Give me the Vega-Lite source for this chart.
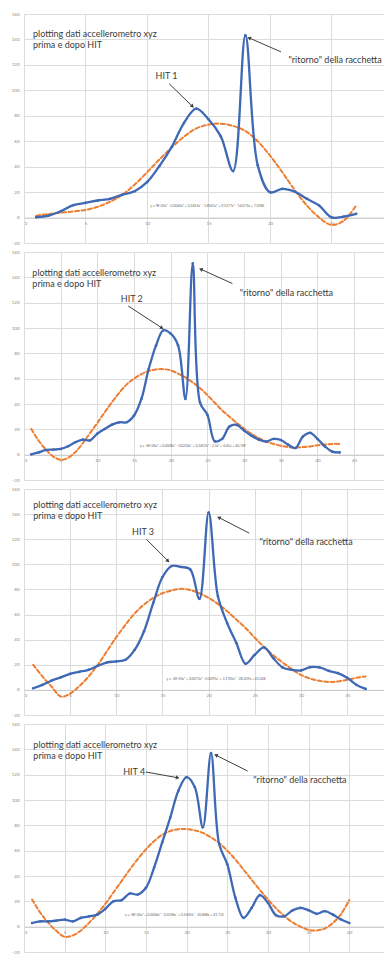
{
  "$schema": "https://vega.github.io/schema/vega-lite/v6.json",
  "padding": {"left": 11, "top": 11, "right": 0, "bottom": 0},
  "autosize": {"type": "pad"},
  "spacing": 9,
  "bounds": "flush",
  "background": "white",
  "config": {
    "view": {"stroke": null},
    "font": "Lato",
    "axis": {"title": null, "grid": true, "gridColor": "#dcdcdc", "gridWidth": 1, "ticks": false, "labelFontSize": 4.5, "labelColor": "#8c8c8c", "labelFont": "Lato"},
    "axisX": {"domainColor": "#c8c8c8", "labelPadding": 3},
    "axisY": {"domainColor": "#dcdcdc", "labelPadding": 5, "values": [-20, 0, 20, 40, 60, 80, 100, 120, 140, 160]},
    "line": {"strokeCap": "round", "strokeJoin": "round"},
    "text": {"font": "Lato", "color": "#3a3a3a", "fontSize": 9, "align": "left", "baseline": "middle"}
  },
  "datasets": {
    "acc": [
      {"hit": 1, "t": 1, "g": 0.3}, {"hit": 1, "t": 2, "g": 1.5}, {"hit": 1, "t": 3, "g": 5}, {"hit": 1, "t": 4, "g": 9.7}, {"hit": 1, "t": 5, "g": 11.5}, {"hit": 1, "t": 6, "g": 13.4}, {"hit": 1, "t": 7, "g": 14.7}, {"hit": 1, "t": 8, "g": 18}, {"hit": 1, "t": 9, "g": 20.7}, {"hit": 1, "t": 10, "g": 27.8}, {"hit": 1, "t": 11, "g": 40.4}, {"hit": 1, "t": 12, "g": 55.4}, {"hit": 1, "t": 13, "g": 74.3}, {"hit": 1, "t": 14, "g": 85.6}, {"hit": 1, "t": 15, "g": 77.2}, {"hit": 1, "t": 16, "g": 63.8}, {"hit": 1, "t": 17, "g": 36.5}, {"hit": 1, "t": 18, "g": 143.3}, {"hit": 1, "t": 19, "g": 41.2}, {"hit": 1, "t": 20, "g": 19.9}, {"hit": 1, "t": 21, "g": 22.6}, {"hit": 1, "t": 22, "g": 20.4}, {"hit": 1, "t": 23, "g": 14.7}, {"hit": 1, "t": 24, "g": 9.4}, {"hit": 1, "t": 25, "g": 0.2}, {"hit": 1, "t": 26, "g": 0.8}, {"hit": 1, "t": 27, "g": 2.9},
      {"hit": 2, "t": 1, "g": 0.3}, {"hit": 2, "t": 2, "g": 1.8}, {"hit": 2, "t": 3, "g": 3.7}, {"hit": 2, "t": 4, "g": 4}, {"hit": 2, "t": 5, "g": 4.5}, {"hit": 2, "t": 6, "g": 6.6}, {"hit": 2, "t": 7, "g": 9.8}, {"hit": 2, "t": 8, "g": 11.9}, {"hit": 2, "t": 9, "g": 11.3}, {"hit": 2, "t": 10, "g": 16.6}, {"hit": 2, "t": 11, "g": 20.3}, {"hit": 2, "t": 12, "g": 23.7}, {"hit": 2, "t": 13, "g": 25.6}, {"hit": 2, "t": 14, "g": 25.6}, {"hit": 2, "t": 15, "g": 30.9}, {"hit": 2, "t": 16, "g": 44}, {"hit": 2, "t": 17, "g": 67.8}, {"hit": 2, "t": 18, "g": 86.3}, {"hit": 2, "t": 19, "g": 98.2}, {"hit": 2, "t": 20, "g": 95.5}, {"hit": 2, "t": 21, "g": 86.3}, {"hit": 2, "t": 22, "g": 44}, {"hit": 2, "t": 23, "g": 151}, {"hit": 2, "t": 24, "g": 40.9}, {"hit": 2, "t": 25, "g": 31.4}, {"hit": 2, "t": 26, "g": 10.6}, {"hit": 2, "t": 27, "g": 12.4}, {"hit": 2, "t": 28, "g": 22.2}, {"hit": 2, "t": 29, "g": 23.5}, {"hit": 2, "t": 30, "g": 19}, {"hit": 2, "t": 31, "g": 15}, {"hit": 2, "t": 32, "g": 11.9}, {"hit": 2, "t": 33, "g": 10.3}, {"hit": 2, "t": 34, "g": 12.4}, {"hit": 2, "t": 35, "g": 11.6}, {"hit": 2, "t": 36, "g": 7.9}, {"hit": 2, "t": 37, "g": 5.3}, {"hit": 2, "t": 38, "g": 14.2}, {"hit": 2, "t": 39, "g": 17.2}, {"hit": 2, "t": 40, "g": 12.4}, {"hit": 2, "t": 41, "g": 6.6}, {"hit": 2, "t": 42, "g": 2.4}, {"hit": 2, "t": 43, "g": 1.8},
      {"hit": 3, "t": 1, "g": 1.3}, {"hit": 3, "t": 2, "g": 4}, {"hit": 3, "t": 3, "g": 7.5}, {"hit": 3, "t": 4, "g": 10}, {"hit": 3, "t": 5, "g": 12.8}, {"hit": 3, "t": 6, "g": 14.4}, {"hit": 3, "t": 7, "g": 16}, {"hit": 3, "t": 8, "g": 19.2}, {"hit": 3, "t": 9, "g": 21.9}, {"hit": 3, "t": 10, "g": 22.7}, {"hit": 3, "t": 11, "g": 24}, {"hit": 3, "t": 12, "g": 32}, {"hit": 3, "t": 13, "g": 46.7}, {"hit": 3, "t": 14, "g": 69.3}, {"hit": 3, "t": 15, "g": 89.9}, {"hit": 3, "t": 16, "g": 98.7}, {"hit": 3, "t": 17, "g": 97.9}, {"hit": 3, "t": 18, "g": 96}, {"hit": 3, "t": 19, "g": 72.5}, {"hit": 3, "t": 20, "g": 141.3}, {"hit": 3, "t": 21, "g": 74.7}, {"hit": 3, "t": 22, "g": 53.3}, {"hit": 3, "t": 23, "g": 37.3}, {"hit": 3, "t": 24, "g": 20.8}, {"hit": 3, "t": 25, "g": 28}, {"hit": 3, "t": 26, "g": 33.9}, {"hit": 3, "t": 27, "g": 25.3}, {"hit": 3, "t": 28, "g": 17.9}, {"hit": 3, "t": 29, "g": 16}, {"hit": 3, "t": 30, "g": 15.5}, {"hit": 3, "t": 31, "g": 18.1}, {"hit": 3, "t": 32, "g": 17.9}, {"hit": 3, "t": 33, "g": 15.2}, {"hit": 3, "t": 34, "g": 13.3}, {"hit": 3, "t": 35, "g": 9.6}, {"hit": 3, "t": 36, "g": 4}, {"hit": 3, "t": 37, "g": 0.8},
      {"hit": 4, "t": 1, "g": 2.9}, {"hit": 4, "t": 2, "g": 4.2}, {"hit": 4, "t": 3, "g": 4.2}, {"hit": 4, "t": 4, "g": 4.8}, {"hit": 4, "t": 5, "g": 5.6}, {"hit": 4, "t": 6, "g": 4.2}, {"hit": 4, "t": 7, "g": 6.9}, {"hit": 4, "t": 8, "g": 8.2}, {"hit": 4, "t": 9, "g": 9.5}, {"hit": 4, "t": 10, "g": 14}, {"hit": 4, "t": 11, "g": 20.1}, {"hit": 4, "t": 12, "g": 20.9}, {"hit": 4, "t": 13, "g": 26.2}, {"hit": 4, "t": 14, "g": 25.4}, {"hit": 4, "t": 15, "g": 30.7}, {"hit": 4, "t": 16, "g": 46.6}, {"hit": 4, "t": 17, "g": 66.5}, {"hit": 4, "t": 18, "g": 86.4}, {"hit": 4, "t": 19, "g": 107.5}, {"hit": 4, "t": 20, "g": 118.1}, {"hit": 4, "t": 21, "g": 110.2}, {"hit": 4, "t": 22, "g": 78.4}, {"hit": 4, "t": 23, "g": 137}, {"hit": 4, "t": 24, "g": 65.2}, {"hit": 4, "t": 25, "g": 49.3}, {"hit": 4, "t": 26, "g": 22.8}, {"hit": 4, "t": 27, "g": 6.9}, {"hit": 4, "t": 28, "g": 14.8}, {"hit": 4, "t": 29, "g": 24.9}, {"hit": 4, "t": 30, "g": 18.8}, {"hit": 4, "t": 31, "g": 9}, {"hit": 4, "t": 32, "g": 8.2}, {"hit": 4, "t": 33, "g": 12.7}, {"hit": 4, "t": 34, "g": 14.8}, {"hit": 4, "t": 35, "g": 13}, {"hit": 4, "t": 36, "g": 10.1}, {"hit": 4, "t": 37, "g": 12.2}, {"hit": 4, "t": 38, "g": 9.5}, {"hit": 4, "t": 39, "g": 5.6}, {"hit": 4, "t": 40, "g": 2.9}
    ],
    "trend": [
      {"hit": 1, "t": 1, "g": 1.5}, {"hit": 1, "t": 2, "g": 2.8}, {"hit": 1, "t": 3, "g": 3.8}, {"hit": 1, "t": 4, "g": 4.8}, {"hit": 1, "t": 5, "g": 6}, {"hit": 1, "t": 6, "g": 8.5}, {"hit": 1, "t": 7, "g": 12.5}, {"hit": 1, "t": 8, "g": 17.8}, {"hit": 1, "t": 9, "g": 26}, {"hit": 1, "t": 10, "g": 35.5}, {"hit": 1, "t": 11, "g": 45.5}, {"hit": 1, "t": 12, "g": 55}, {"hit": 1, "t": 13, "g": 63.5}, {"hit": 1, "t": 14, "g": 70}, {"hit": 1, "t": 15, "g": 73}, {"hit": 1, "t": 16, "g": 73.8}, {"hit": 1, "t": 17, "g": 72}, {"hit": 1, "t": 18, "g": 68}, {"hit": 1, "t": 19, "g": 60}, {"hit": 1, "t": 20, "g": 48.7}, {"hit": 1, "t": 21, "g": 35.6}, {"hit": 1, "t": 22, "g": 21.8}, {"hit": 1, "t": 23, "g": 9.4}, {"hit": 1, "t": 24, "g": 0}, {"hit": 1, "t": 25, "g": -5.8}, {"hit": 1, "t": 26, "g": -2.4}, {"hit": 1, "t": 27, "g": 9.4},
      {"hit": 2, "t": 1, "g": 20.3}, {"hit": 2, "t": 2, "g": 11}, {"hit": 2, "t": 3, "g": 4}, {"hit": 2, "t": 4, "g": -1.5}, {"hit": 2, "t": 5, "g": -4}, {"hit": 2, "t": 6, "g": -2.5}, {"hit": 2, "t": 7, "g": 2}, {"hit": 2, "t": 8, "g": 9}, {"hit": 2, "t": 9, "g": 17}, {"hit": 2, "t": 10, "g": 25}, {"hit": 2, "t": 11, "g": 33.5}, {"hit": 2, "t": 12, "g": 41.5}, {"hit": 2, "t": 13, "g": 49}, {"hit": 2, "t": 14, "g": 55.5}, {"hit": 2, "t": 15, "g": 60}, {"hit": 2, "t": 16, "g": 63.5}, {"hit": 2, "t": 17, "g": 66}, {"hit": 2, "t": 18, "g": 67.3}, {"hit": 2, "t": 19, "g": 67.5}, {"hit": 2, "t": 20, "g": 66.5}, {"hit": 2, "t": 21, "g": 64}, {"hit": 2, "t": 22, "g": 61}, {"hit": 2, "t": 23, "g": 57}, {"hit": 2, "t": 24, "g": 52.5}, {"hit": 2, "t": 25, "g": 47}, {"hit": 2, "t": 26, "g": 41}, {"hit": 2, "t": 27, "g": 35}, {"hit": 2, "t": 28, "g": 30}, {"hit": 2, "t": 29, "g": 25}, {"hit": 2, "t": 30, "g": 20.5}, {"hit": 2, "t": 31, "g": 16.5}, {"hit": 2, "t": 32, "g": 13}, {"hit": 2, "t": 33, "g": 10.5}, {"hit": 2, "t": 34, "g": 8.5}, {"hit": 2, "t": 35, "g": 7}, {"hit": 2, "t": 36, "g": 6}, {"hit": 2, "t": 37, "g": 5.5}, {"hit": 2, "t": 38, "g": 6}, {"hit": 2, "t": 39, "g": 6.5}, {"hit": 2, "t": 40, "g": 7.5}, {"hit": 2, "t": 41, "g": 8}, {"hit": 2, "t": 42, "g": 8.5}, {"hit": 2, "t": 43, "g": 8.5},
      {"hit": 3, "t": 1, "g": 20}, {"hit": 3, "t": 2, "g": 10.7}, {"hit": 3, "t": 3, "g": 2.5}, {"hit": 3, "t": 4, "g": -5.3}, {"hit": 3, "t": 5, "g": -3}, {"hit": 3, "t": 6, "g": 3}, {"hit": 3, "t": 7, "g": 10.7}, {"hit": 3, "t": 8, "g": 20}, {"hit": 3, "t": 9, "g": 31}, {"hit": 3, "t": 10, "g": 42}, {"hit": 3, "t": 11, "g": 52}, {"hit": 3, "t": 12, "g": 61}, {"hit": 3, "t": 13, "g": 68}, {"hit": 3, "t": 14, "g": 73.3}, {"hit": 3, "t": 15, "g": 77}, {"hit": 3, "t": 16, "g": 79.2}, {"hit": 3, "t": 17, "g": 80.5}, {"hit": 3, "t": 18, "g": 79.5}, {"hit": 3, "t": 19, "g": 77}, {"hit": 3, "t": 20, "g": 73.3}, {"hit": 3, "t": 21, "g": 68.5}, {"hit": 3, "t": 22, "g": 62.7}, {"hit": 3, "t": 23, "g": 56}, {"hit": 3, "t": 24, "g": 49.3}, {"hit": 3, "t": 25, "g": 41.5}, {"hit": 3, "t": 26, "g": 34.1}, {"hit": 3, "t": 27, "g": 27.5}, {"hit": 3, "t": 28, "g": 21.9}, {"hit": 3, "t": 29, "g": 16.5}, {"hit": 3, "t": 30, "g": 12}, {"hit": 3, "t": 31, "g": 9}, {"hit": 3, "t": 32, "g": 7.2}, {"hit": 3, "t": 33, "g": 6.3}, {"hit": 3, "t": 34, "g": 6.7}, {"hit": 3, "t": 35, "g": 8}, {"hit": 3, "t": 36, "g": 9.6}, {"hit": 3, "t": 37, "g": 10.7},
      {"hit": 4, "t": 1, "g": 21.5}, {"hit": 4, "t": 2, "g": 11}, {"hit": 4, "t": 3, "g": 3}, {"hit": 4, "t": 4, "g": -3.5}, {"hit": 4, "t": 5, "g": -8}, {"hit": 4, "t": 6, "g": -7}, {"hit": 4, "t": 7, "g": -3}, {"hit": 4, "t": 8, "g": 3}, {"hit": 4, "t": 9, "g": 10}, {"hit": 4, "t": 10, "g": 18}, {"hit": 4, "t": 11, "g": 27}, {"hit": 4, "t": 12, "g": 36}, {"hit": 4, "t": 13, "g": 45}, {"hit": 4, "t": 14, "g": 53.5}, {"hit": 4, "t": 15, "g": 61}, {"hit": 4, "t": 16, "g": 67.5}, {"hit": 4, "t": 17, "g": 72.5}, {"hit": 4, "t": 18, "g": 75.5}, {"hit": 4, "t": 19, "g": 77}, {"hit": 4, "t": 20, "g": 77}, {"hit": 4, "t": 21, "g": 76}, {"hit": 4, "t": 22, "g": 74}, {"hit": 4, "t": 23, "g": 70.5}, {"hit": 4, "t": 24, "g": 66}, {"hit": 4, "t": 25, "g": 60}, {"hit": 4, "t": 26, "g": 53}, {"hit": 4, "t": 27, "g": 45}, {"hit": 4, "t": 28, "g": 37}, {"hit": 4, "t": 29, "g": 29}, {"hit": 4, "t": 30, "g": 21.5}, {"hit": 4, "t": 31, "g": 14.5}, {"hit": 4, "t": 32, "g": 8.5}, {"hit": 4, "t": 33, "g": 3.5}, {"hit": 4, "t": 34, "g": 0}, {"hit": 4, "t": 35, "g": -2.5}, {"hit": 4, "t": 36, "g": -3}, {"hit": 4, "t": 37, "g": -1.5}, {"hit": 4, "t": 38, "g": 3}, {"hit": 4, "t": 39, "g": 10}, {"hit": 4, "t": 40, "g": 21}
    ],
    "notes": [
      {"hit": 1, "t": 0.73, "g": 144, "label": "plotting dati accellerometro xyz"},
      {"hit": 1, "t": 0.73, "g": 135.4, "label": "prima e dopo HIT"},
      {"hit": 1, "t": 10.7, "g": 111, "label": "HIT 1"},
      {"hit": 1, "t": 21.5, "g": 123.6, "label": "\"ritorno\" della racchetta"},
      {"hit": 2, "t": 1.14, "g": 143.5, "label": "plotting dati accellerometro xyz"},
      {"hit": 2, "t": 1.14, "g": 134.6, "label": "prima e dopo HIT"},
      {"hit": 2, "t": 13.2, "g": 122.7, "label": "HIT 2"},
      {"hit": 2, "t": 29.4, "g": 128, "label": "\"ritorno\" della racchetta"},
      {"hit": 3, "t": 1.0, "g": 147.2, "label": "plotting dati accellerometro xyz"},
      {"hit": 3, "t": 1.0, "g": 138.1, "label": "prima e dopo HIT"},
      {"hit": 3, "t": 11.7, "g": 125.9, "label": "HIT 3"},
      {"hit": 3, "t": 25.5, "g": 117.9, "label": "\"ritorno\" della racchetta"},
      {"hit": 4, "t": 1.15, "g": 143.8, "label": "plotting dati accellerometro xyz"},
      {"hit": 4, "t": 1.15, "g": 135.1, "label": "prima e dopo HIT"},
      {"hit": 4, "t": 12.2, "g": 122.1, "label": "HIT 4"},
      {"hit": 4, "t": 28.2, "g": 115.5, "label": "\"ritorno\" della racchetta"}
    ],
    "formula": [
      {"hit": 1, "t": 14.9, "g": 9.4, "label": "y = 9E-05x⁶ - 0,0066x⁵ + 0,1653x⁴ - 1,8561x³ + 9,5377x² - 14,073x + 7,0786"},
      {"hit": 2, "t": 23, "g": 6.6, "label": "y = -6E-06x⁶ + 0,0008x⁵ - 0,0234x⁴ + 0,3407x³ - 2,3x² + 6,61x + 40,769"},
      {"hit": 3, "t": 20.8, "g": 8.8, "label": "y = -4E-05x⁶ + 0,0073x⁵ - 0,0095x⁴ + 3,1705x³ - 28,209x + 45,048"},
      {"hit": 4, "t": 18.5, "g": 9.5, "label": "y = -8E-06x⁶ + 0,0006x⁵ - 0,0338x⁴ + 0,5505x³ - 20,868x + 41,732"}
    ],
    "arrows": [
      {"hit": 1, "tip": "hit", "t": 13.7, "g": 87.4, "t2": 11.8, "g2": 105.2},
      {"hit": 1, "tip": "ret", "t": 18.3, "g": 141.2, "t2": 20.9, "g2": 130.2},
      {"hit": 2, "tip": "hit", "t": 18.8, "g": 100, "t2": 14.2, "g2": 117.4},
      {"hit": 2, "tip": "ret", "t": 24.1, "g": 146.4, "t2": 28.4, "g2": 135.1},
      {"hit": 3, "tip": "hit", "t": 15.6, "g": 102.7, "t2": 13.25, "g2": 120},
      {"hit": 3, "tip": "ret", "t": 21.1, "g": 137.3, "t2": 24.4, "g2": 124.8},
      {"hit": 4, "tip": "hit", "t": 18.9, "g": 117.6, "t2": 15.0, "g2": 122.1},
      {"hit": 4, "tip": "ret", "t": 23.6, "g": 135.4, "t2": 27.5, "g2": 122.9}
    ]
  },
  "vconcat": [
    {
      "width": 361, "height": 229,
      "encoding": {
        "x": {"field": "t", "type": "quantitative", "scale": {"domain": [0, 29.35], "nice": false, "zero": false}, "axis": {"values": [0, 5, 10, 15, 20, 25], "offset": -25.4}},
        "y": {"field": "g", "type": "quantitative", "scale": {"domain": [-20, 160], "nice": false}}
      },
      "layer": [
        {"data": {"name": "trend"}, "transform": [{"filter": "datum.hit == 1"}], "mark": {"type": "line", "color": "#ED7D31", "strokeWidth": 2, "strokeDash": [4, 2.5], "interpolate": "catmull-rom"}},
        {"data": {"name": "acc"}, "transform": [{"filter": "datum.hit == 1"}], "mark": {"type": "line", "color": "#3F69B5", "strokeWidth": 2.3, "interpolate": "catmull-rom"}},
        {"data": {"name": "acc"}, "transform": [{"filter": "datum.hit == 1"}], "mark": {"type": "point", "filled": true, "color": "#3F69B5", "size": 7, "opacity": 1}},
        {"data": {"name": "notes"}, "transform": [{"filter": "datum.hit == 1"}], "mark": {"type": "text"}, "encoding": {"text": {"field": "label"}}},
        {"data": {"name": "formula"}, "transform": [{"filter": "datum.hit == 1"}], "mark": {"type": "text", "align": "center", "fontSize": 3.4, "color": "#666"}, "encoding": {"text": {"field": "label"}}},
        {"data": {"name": "arrows"}, "transform": [{"filter": "datum.hit == 1"}], "mark": {"type": "rule", "color": "#404040", "strokeWidth": 1}, "encoding": {"x2": {"field": "t2"}, "y2": {"field": "g2"}}},
        {"data": {"name": "arrows"}, "transform": [{"filter": "datum.hit == 1 && datum.tip == 'hit'"}], "mark": {"type": "point", "shape": "triangle-up", "filled": true, "color": "#404040", "size": 18, "opacity": 1, "angle": 134}},
        {"data": {"name": "arrows"}, "transform": [{"filter": "datum.hit == 1 && datum.tip == 'ret'"}], "mark": {"type": "point", "shape": "triangle-up", "filled": true, "color": "#404040", "size": 18, "opacity": 1, "angle": 294}}
      ]
    },
    {
      "width": 361, "height": 228,
      "encoding": {
        "x": {"field": "t", "type": "quantitative", "scale": {"domain": [0, 49.2], "nice": false, "zero": false}, "axis": {"values": [0, 5, 10, 15, 20, 25, 30, 35, 40, 45], "offset": -25.3}},
        "y": {"field": "g", "type": "quantitative", "scale": {"domain": [-20, 160], "nice": false}}
      },
      "layer": [
        {"data": {"name": "trend"}, "transform": [{"filter": "datum.hit == 2"}], "mark": {"type": "line", "color": "#ED7D31", "strokeWidth": 2, "strokeDash": [4, 2.5], "interpolate": "catmull-rom"}},
        {"data": {"name": "acc"}, "transform": [{"filter": "datum.hit == 2"}], "mark": {"type": "line", "color": "#3F69B5", "strokeWidth": 2.3, "interpolate": "catmull-rom"}},
        {"data": {"name": "acc"}, "transform": [{"filter": "datum.hit == 2"}], "mark": {"type": "point", "filled": true, "color": "#3F69B5", "size": 7, "opacity": 1}},
        {"data": {"name": "notes"}, "transform": [{"filter": "datum.hit == 2"}], "mark": {"type": "text"}, "encoding": {"text": {"field": "label"}}},
        {"data": {"name": "formula"}, "transform": [{"filter": "datum.hit == 2"}], "mark": {"type": "text", "align": "center", "fontSize": 3.4, "color": "#666"}, "encoding": {"text": {"field": "label"}}},
        {"data": {"name": "arrows"}, "transform": [{"filter": "datum.hit == 2"}], "mark": {"type": "rule", "color": "#404040", "strokeWidth": 1}, "encoding": {"x2": {"field": "t2"}, "y2": {"field": "g2"}}},
        {"data": {"name": "arrows"}, "transform": [{"filter": "datum.hit == 2 && datum.tip == 'hit'"}], "mark": {"type": "point", "shape": "triangle-up", "filled": true, "color": "#404040", "size": 18, "opacity": 1, "angle": 123}},
        {"data": {"name": "arrows"}, "transform": [{"filter": "datum.hit == 2 && datum.tip == 'ret'"}], "mark": {"type": "point", "shape": "triangle-up", "filled": true, "color": "#404040", "size": 18, "opacity": 1, "angle": 294}}
      ]
    },
    {
      "width": 361, "height": 226,
      "encoding": {
        "x": {"field": "t", "type": "quantitative", "scale": {"domain": [0, 39.1], "nice": false, "zero": false}, "axis": {"values": [0, 5, 10, 15, 20, 25, 30, 35], "offset": -25.1}},
        "y": {"field": "g", "type": "quantitative", "scale": {"domain": [-20, 160], "nice": false}}
      },
      "layer": [
        {"data": {"name": "trend"}, "transform": [{"filter": "datum.hit == 3"}], "mark": {"type": "line", "color": "#ED7D31", "strokeWidth": 2, "strokeDash": [4, 2.5], "interpolate": "catmull-rom"}},
        {"data": {"name": "acc"}, "transform": [{"filter": "datum.hit == 3"}], "mark": {"type": "line", "color": "#3F69B5", "strokeWidth": 2.3, "interpolate": "catmull-rom"}},
        {"data": {"name": "acc"}, "transform": [{"filter": "datum.hit == 3"}], "mark": {"type": "point", "filled": true, "color": "#3F69B5", "size": 7, "opacity": 1}},
        {"data": {"name": "notes"}, "transform": [{"filter": "datum.hit == 3"}], "mark": {"type": "text"}, "encoding": {"text": {"field": "label"}}},
        {"data": {"name": "formula"}, "transform": [{"filter": "datum.hit == 3"}], "mark": {"type": "text", "align": "center", "fontSize": 3.4, "color": "#666"}, "encoding": {"text": {"field": "label"}}},
        {"data": {"name": "arrows"}, "transform": [{"filter": "datum.hit == 3"}], "mark": {"type": "rule", "color": "#404040", "strokeWidth": 1}, "encoding": {"x2": {"field": "t2"}, "y2": {"field": "g2"}}},
        {"data": {"name": "arrows"}, "transform": [{"filter": "datum.hit == 3 && datum.tip == 'hit'"}], "mark": {"type": "point", "shape": "triangle-up", "filled": true, "color": "#404040", "size": 18, "opacity": 1, "angle": 135}},
        {"data": {"name": "arrows"}, "transform": [{"filter": "datum.hit == 3 && datum.tip == 'ret'"}], "mark": {"type": "point", "shape": "triangle-up", "filled": true, "color": "#404040", "size": 18, "opacity": 1, "angle": 297}}
      ]
    },
    {
      "width": 361, "height": 228,
      "encoding": {
        "x": {"field": "t", "type": "quantitative", "scale": {"domain": [0, 44.4], "nice": false, "zero": false}, "axis": {"values": [0, 5, 10, 15, 20, 25, 30, 35, 40], "offset": -25.3}},
        "y": {"field": "g", "type": "quantitative", "scale": {"domain": [-20, 160], "nice": false}}
      },
      "layer": [
        {"data": {"name": "trend"}, "transform": [{"filter": "datum.hit == 4"}], "mark": {"type": "line", "color": "#ED7D31", "strokeWidth": 2, "strokeDash": [4, 2.5], "interpolate": "catmull-rom"}},
        {"data": {"name": "acc"}, "transform": [{"filter": "datum.hit == 4"}], "mark": {"type": "line", "color": "#3F69B5", "strokeWidth": 2.3, "interpolate": "catmull-rom"}},
        {"data": {"name": "acc"}, "transform": [{"filter": "datum.hit == 4"}], "mark": {"type": "point", "filled": true, "color": "#3F69B5", "size": 7, "opacity": 1}},
        {"data": {"name": "notes"}, "transform": [{"filter": "datum.hit == 4"}], "mark": {"type": "text"}, "encoding": {"text": {"field": "label"}}},
        {"data": {"name": "formula"}, "transform": [{"filter": "datum.hit == 4"}], "mark": {"type": "text", "align": "center", "fontSize": 3.4, "color": "#666"}, "encoding": {"text": {"field": "label"}}},
        {"data": {"name": "arrows"}, "transform": [{"filter": "datum.hit == 4"}], "mark": {"type": "rule", "color": "#404040", "strokeWidth": 1}, "encoding": {"x2": {"field": "t2"}, "y2": {"field": "g2"}}},
        {"data": {"name": "arrows"}, "transform": [{"filter": "datum.hit == 4 && datum.tip == 'hit'"}], "mark": {"type": "point", "shape": "triangle-up", "filled": true, "color": "#404040", "size": 18, "opacity": 1, "angle": 100}},
        {"data": {"name": "arrows"}, "transform": [{"filter": "datum.hit == 4 && datum.tip == 'ret'"}], "mark": {"type": "point", "shape": "triangle-up", "filled": true, "color": "#404040", "size": 18, "opacity": 1, "angle": 296}}
      ]
    }
  ]
}
